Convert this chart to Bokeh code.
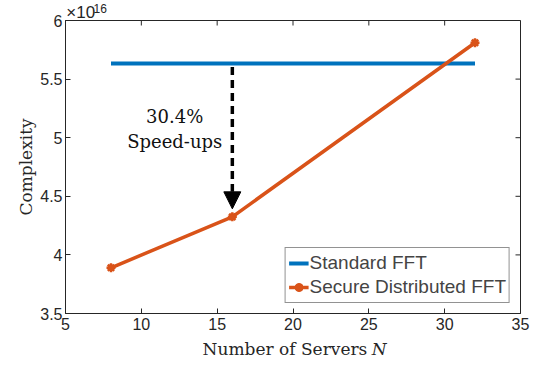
from bokeh.plotting import figure
from bokeh.models import Range1d, FixedTicker, CustomJSTickFormatter, Label, Arrow, NormalHead
from bokeh.embed import file_html
from bokeh.resources import INLINE

servers = [8, 16, 32]
standard_fft = [5.634, 5.634, 5.634]
secure_fft = [3.89, 4.325, 5.81]
x_ticks = [5, 10, 15, 20, 25, 30, 35]
y_ticks = [3.5, 4, 4.5, 5, 5.5, 6]
X0, X1 = 5, 35
Y0, Y1 = 3.5, 6

BLUE = "#0072BD"
ORANGE = "#D95319"
SANS = "Liberation Sans"
SERIF = "DejaVu Serif"
AX = "#262626"

p = figure(width=538, height=366, x_range=Range1d(X0, X1), y_range=Range1d(Y0, Y1),
           output_backend="svg", toolbar_location=None,
           min_border_left=65, min_border_right=18, min_border_top=20, min_border_bottom=53)
p.xgrid.visible = False
p.ygrid.visible = False
p.outline_line_color = AX
p.outline_line_width = 1

fmt = CustomJSTickFormatter(code="return tick.toString();")

for ax, ticks in ((p.xaxis[0], x_ticks), (p.yaxis[0], y_ticks)):
    ax.ticker = FixedTicker(ticks=ticks)
    ax.formatter = fmt
    ax.major_tick_in = 5
    ax.major_tick_out = 0
    ax.minor_tick_line_color = None
    ax.axis_line_color = AX
    ax.major_tick_line_color = AX
    ax.major_label_text_font = SANS
    ax.major_label_text_font_size = "16px"
    ax.major_label_text_color = AX
    ax.axis_label_text_font = SERIF
    ax.axis_label_text_font_style = "normal"
    ax.axis_label_text_font_size = "17px"
    ax.axis_label_text_color = AX
p.yaxis[0].axis_label = "Complexity"
p.yaxis[0].axis_label_standoff = 1
p.yaxis[0].major_label_standoff = 3
p.xaxis[0].major_label_standoff = 4

# inward ticks on the top and right edges of the box
tx = (X1 - X0) * 5 / 455
ty = (Y1 - Y0) * 5 / 293
p.segment(x0=x_ticks, y0=[Y1] * len(x_ticks), x1=x_ticks, y1=[Y1 - ty] * len(x_ticks),
          line_color=AX, line_width=1)
p.segment(x0=[X1] * len(y_ticks), y0=y_ticks, x1=[X1 - tx] * len(y_ticks), y1=y_ticks,
          line_color=AX, line_width=1)

p.line(servers, standard_fft, line_color=BLUE, line_width=4, legend_label="Standard FFT")
p.line(servers, secure_fft, line_color=ORANGE, line_width=3.5, legend_label="Secure Distributed FFT")
p.scatter(servers, secure_fft, marker="asterisk", size=9, line_color=ORANGE, line_width=2.5,
          legend_label="Secure Distributed FFT")
p.scatter(servers, secure_fft, marker="circle", size=6, line_color=ORANGE, fill_color=ORANGE,
          legend_label="Secure Distributed FFT")

p.add_layout(Arrow(x_start=16, y_start=standard_fft[1] - 0.03, x_end=16, y_end=4.393,
                   line_color="black", line_width=3.5, line_dash="8 5",
                   end=NormalHead(size=17, fill_color="black", line_color="black")))

p.add_layout(Label(x=12.2, y=5.184, text="30.4%", text_font=SERIF, text_font_size="18px",
                   text_align="center", text_baseline="middle", text_color="#111111"))
p.add_layout(Label(x=12.2, y=4.968, text="Speed-ups", text_font=SERIF, text_font_size="18px",
                   text_align="center", text_baseline="middle", text_color="#111111"))

# texts outside the frame live in side panels so they are not clipped
p.add_layout(Label(x=24.9, y=3.2, text="Number of Servers", text_font=SERIF, text_font_size="17px",
                   text_align="right", text_baseline="middle", text_color=AX), "below")
p.add_layout(Label(x=25.2, y=3.2, text="N", text_font=SERIF, text_font_size="17px",
                   text_font_style="italic", text_align="left", text_baseline="middle",
                   text_color=AX), "right")
p.add_layout(Label(x=5.05, y=6.07, text="×10", text_font=SANS, text_font_size="17px",
                   text_align="left", text_baseline="middle", text_color=AX), "above")
p.add_layout(Label(x=6.85, y=6.1, text="16", text_font=SANS, text_font_size="12px",
                   text_align="left", text_baseline="middle", text_color=AX), "left")

lg = p.legend[0]
lg.location = "bottom_right"
lg.padding = 3
lg.spacing = 0
lg.label_text_font = SANS
lg.label_text_font_size = "19px"
lg.label_standoff = 1
lg.glyph_width = 20
lg.glyph_height = 24
lg.label_height = 24
lg.border_line_color = AX
lg.border_line_width = 1
lg.background_fill_alpha = 1
lg.margin = 10

open("out.html", "w").write(file_html(p, INLINE))
